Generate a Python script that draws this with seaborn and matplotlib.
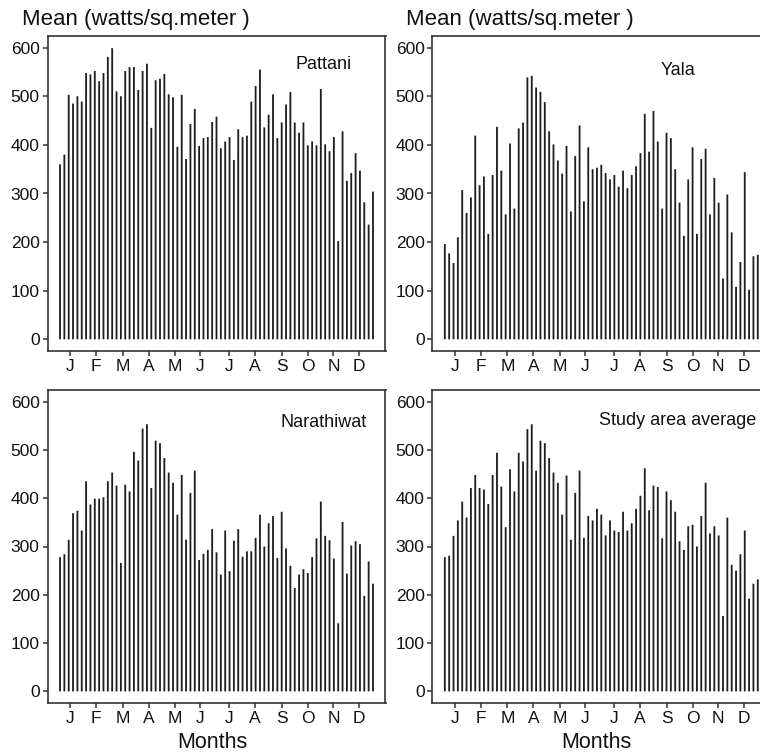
import numpy as np
import pandas as pd
import matplotlib
matplotlib.use("Agg")
import matplotlib.pyplot as plt
import seaborn as sns

# Five-day (pentad) mean solar radiation, 73 pentads per year, W/m^2
pattani = [360, 380, 503, 485, 500, 489, 548, 545, 552, 531, 548, 581, 599, 510, 500,
           552, 560, 560, 513, 552, 567, 435, 533, 536, 546, 504, 498, 396, 503, 371,
           443, 474, 398, 414, 416, 447, 458, 393, 407, 416, 369, 432, 416, 419, 489,
           521, 555, 436, 462, 504, 414, 446, 483, 509, 446, 425, 446, 399, 407, 399,
           515, 401, 387, 416, 202, 428, 326, 342, 383, 347, 282, 236, 304]
yala = [196, 177, 157, 210, 307, 260, 292, 419, 317, 335, 217, 338, 437, 347, 257,
        403, 269, 434, 446, 539, 542, 518, 509, 488, 428, 401, 368, 341, 398, 263,
        377, 440, 284, 395, 350, 353, 359, 342, 329, 338, 314, 347, 311, 338, 356,
        383, 464, 386, 470, 407, 269, 425, 414, 350, 281, 213, 329, 395, 217, 371,
        392, 257, 332, 281, 125, 298, 220, 108, 159, 344, 102, 171, 174]
narathiwat = [278, 284, 314, 369, 374, 333, 435, 387, 399, 399, 402, 435, 453, 426, 266,
              428, 414, 496, 478, 544, 553, 421, 519, 514, 483, 453, 432, 366, 448, 314,
              411, 457, 272, 285, 293, 336, 288, 242, 333, 249, 312, 336, 279, 290, 290,
              318, 366, 300, 348, 363, 276, 372, 296, 260, 214, 242, 253, 245, 278, 317,
              393, 322, 313, 275, 141, 351, 244, 302, 311, 305, 198, 269, 223]
study_area = [278, 281, 322, 354, 393, 360, 421, 448, 421, 418, 388, 448, 494, 424, 340,
              460, 414, 494, 476, 543, 553, 457, 519, 514, 483, 453, 432, 366, 447, 314,
              411, 457, 318, 363, 354, 378, 366, 323, 354, 333, 330, 372, 333, 348, 378,
              405, 462, 375, 426, 423, 317, 414, 396, 372, 311, 293, 342, 345, 300, 363,
              432, 327, 342, 323, 156, 360, 262, 250, 284, 333, 192, 223, 232]

stations = ["Pattani", "Yala", "Narathiwat", "Study area average"]
series = [pattani, yala, narathiwat, study_area]

months = ["J", "F", "M", "A", "M", "J", "J", "A", "S", "O", "N", "D"]
month_tick_pos = [3.4, 9.3, 15.4, 21.4, 27.4, 33.3, 39.9, 45.9, 52.0, 58.1, 63.9, 69.8]
y_ticks = [0, 100, 200, 300, 400, 500, 600]

sns.set_theme(style="ticks")
plt.rcParams["font.family"] = ["Liberation Sans", "DejaVu Sans"]
plt.rcParams["text.color"] = "#111111"

W, H = 760, 755
fig = plt.figure(figsize=(W / 100, H / 100), dpi=100)


def add_axes_px(left, top, right, bottom):
    return fig.add_axes([left / W, 1 - bottom / H, (right - left) / W, (bottom - top) / H])


boxes = [(47.5, 36, 385.5, 351), (432.3, 36, 770.3, 351),
         (47.5, 390, 385.5, 703), (432.3, 390, 770.3, 703)]
label_pos = [(0.818, 0.908), (0.727, 0.892), (0.818, 0.895), (0.727, 0.901)]

bar_color = "#1e1e1e"
axis_color = "#333333"

for i, (name, vals) in enumerate(zip(stations, series)):
    ax = add_axes_px(*boxes[i])
    df = pd.DataFrame({"pentad": np.arange(1, len(vals) + 1), "value": vals})
    sns.barplot(data=df, x="pentad", y="value", native_scale=True, width=0.42,
                color=bar_color, saturation=1, errorbar=None, linewidth=0, ax=ax)
    # keep every spike the same apparent thickness instead of pixel-snapping
    for patch in ax.patches:
        patch.set_snap(False)
    ax.set_xlim(-1.88, 75.88)
    ax.set_ylim(-24, 624)
    ax.set_xticks(month_tick_pos)
    ax.set_xticklabels(months)
    ax.set_yticks(y_ticks)
    ax.set_xlabel("")
    ax.set_ylabel("")
    for sp in ax.spines.values():
        sp.set_visible(True)
        sp.set_color(axis_color)
        sp.set_linewidth(1.2)
    ax.tick_params(axis="both", direction="out", length=3.8, width=1.1,
                   color=axis_color, labelsize=12.5, labelcolor="#111111", pad=1.8)
    ax.text(*label_pos[i], name, transform=ax.transAxes, ha="center", va="center",
            fontsize=13)

for x0 in (22, 406):
    fig.text(x0 / W, 1 - 20 / H, "Mean (watts/sq.meter )", ha="left", va="center",
             fontsize=16)
for xc in (212.5, 596.5):
    fig.text(xc / W, 1 - 743 / H, "Months", ha="center", va="center", fontsize=15.5)

fig.savefig("out.png", dpi=100)
